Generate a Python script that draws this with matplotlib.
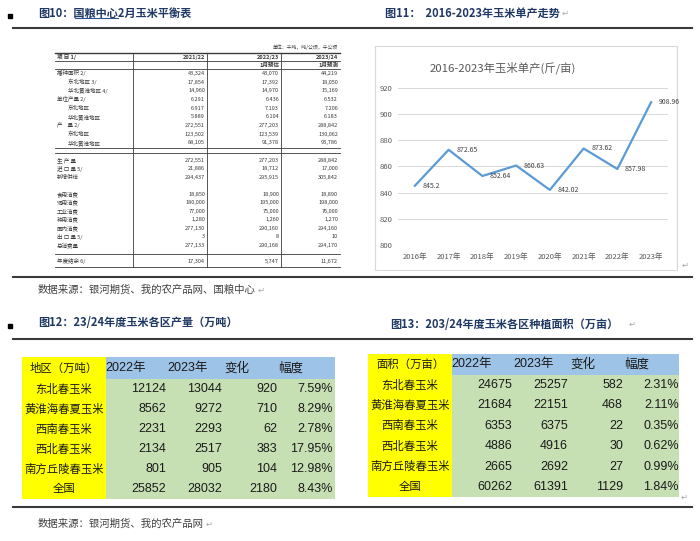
import matplotlib
matplotlib.use('Agg')
import matplotlib.pyplot as plt
from matplotlib import font_manager as fm
from matplotlib.patches import Rectangle

plt.rcParams['font.family'] = ['Noto Sans CJK SC', 'DejaVu Sans']
names = {f.name for f in fm.fontManager.ttflist}
NARROW = 'Liberation Sans Narrow' if 'Liberation Sans Narrow' in names else 'Liberation Sans'
NUMFONT = [NARROW, 'Noto Sans CJK SC', 'DejaVu Sans']
NUMSIZE = 10 if NARROW == 'Liberation Sans Narrow' else 9

# ---- 图10 国粮中心平衡表 ----
bal_head = ['项 目 1/', '2021/22', '2022/23', '2023/24']
bal_sub = ['', '', '1月预估', '1月预测']
bal_items = ['播种面积 2/', '东北地区 3/', '华北黄淮地区 4/', '单位产量 2/', '东北地区', '华北黄淮地区',
             '产    量 2/', '东北地区', '华北黄淮地区',
             '生 产 量', '进 口 量 5/', '新增供给',
             '食用消费', '饲用消费', '工业消费', '种用消费', '国内消费', '出 口 量 5/', '总消费量',
             '年度结余 6/']
bal_indent = [0, 1, 1, 0, 1, 1, 0, 1, 1, 0, 0, 0, 0, 0, 0, 0, 0, 0, 0, 0]
bal_2122 = ['43,324', '17,854', '14,960', '6.291', '6.917', '5.889', '272,551', '123,502', '88,105',
            '272,551', '21,886', '294,437',
            '18,850', '180,000', '77,000', '1,280', '277,130', '3', '277,133', '17,304']
bal_2223 = ['43,070', '17,392', '14,970', '6.436', '7.103', '6.104', '277,203', '123,539', '91,378',
            '277,203', '18,712', '295,915',
            '18,900', '195,000', '75,000', '1,260', '290,160', '8', '290,168', '5,747']
bal_2324 = ['44,219', '18,050', '15,169', '6.532', '7.206', '6.183', '288,842', '130,062', '93,786',
            '288,842', '17,000', '305,842',
            '18,890', '198,000', '76,000', '1,270', '294,160', '10', '294,170', '11,672']

# ---- 图11 单产 ----
years = ['2016年', '2017年', '2018年', '2019年', '2020年', '2021年', '2022年', '2023年']
yields = [845.2, 872.65, 852.64, 860.63, 842.02, 873.62, 857.98, 908.96]

# ---- 图12 / 图13 ----
regions = ['东北春玉米', '黄淮海春夏玉米', '西南春玉米', '西北春玉米', '南方丘陵春玉米', '全国']
col_heads = ['2022年', '2023年', '变化', '幅度']
out_2022 = [12124, 8562, 2231, 2134, 801, 25852]
out_2023 = [13044, 9272, 2293, 2517, 905, 28032]
out_chg = [920, 710, 62, 383, 104, 2180]
out_pct = ['7.59%', '8.29%', '2.78%', '17.95%', '12.98%', '8.43%']
area_2022 = [24675, 21684, 6353, 4886, 2665, 60262]
area_2023 = [25257, 22151, 6375, 4916, 2692, 61391]
area_chg = [582, 468, 22, 30, 27, 1129]
area_pct = ['2.31%', '2.11%', '0.35%', '0.62%', '0.99%', '1.84%']

W, H = 700, 541
fig = plt.figure(figsize=(W / 100, H / 100), dpi=100)
ax = fig.add_axes([0, 0, 1, 1])
ax.set_xlim(0, W)
ax.set_ylim(H, 0)
ax.axis('off')

navy = '#1F3864'
ret = '#A6A6A6'

# titles / section lines
def bullet(y):
    ax.add_patch(Rectangle((8, y - 2), 4, 4, color='black'))

bullet(16)
ax.text(38, 13, '图10：国粮中心2月玉米平衡表', fontsize=8, fontweight='bold', color=navy, va='center')
ax.plot([75, 118], [17.5, 17.5], color='#2F5597', lw=0.8)
ax.text(385, 13, '图11：  2016-2023年玉米单产走势', fontsize=8, fontweight='bold', color=navy, va='center')
ax.text(562, 13, '↵', fontsize=6, color=ret, va='center', family='DejaVu Sans')
for y in [28, 277, 339, 507]:
    ax.plot([13, 692], [y, y], color='#3A3A3A', lw=1.5)

# ---- fig 10 table ----
tc = '#3A3A3A'
tl, tr = 55, 340
ax.text(338, 47, '单位：千吨，吨/公顷，千公顷', fontsize=3.5, color=tc, ha='right', va='center')
ax.plot([tl, tr], [52.5, 52.5], color=tc, lw=1.0)
for y in [61, 69, 148, 153, 254, 267]:
    ax.plot([tl, tr], [y, y], color=tc, lw=0.6)
for x in [132.7, 206.7, 281]:
    ax.plot([x, x], [52.5, 267], color=tc, lw=0.6)
col_r = [205, 279, 338]
ax.text(57, 57, bal_head[0], fontsize=4, color=tc, va='center', fontweight='bold')
for j in range(3):
    ax.text(col_r[j], 57, bal_head[j + 1], fontsize=4, color=tc, va='center', ha='right', fontweight='bold')
    ax.text(col_r[j], 65, bal_sub[j + 1], fontsize=4, color=tc, va='center', ha='right', fontweight='bold')
row_y = [73.3 + 8.7 * i for i in range(9)] + [160 + 8.5 * i for i in range(3)] + \
        [194 + 8.5 * i for i in range(7)] + [261.5]
for i, item in enumerate(bal_items):
    y = row_y[i]
    ax.text(57 + 11 * bal_indent[i], y, item, fontsize=4, color=tc, va='center')
    for j, col in enumerate([bal_2122, bal_2223, bal_2324]):
        ax.text(col_r[j], y, col[i], fontsize=4, color=tc, va='center', ha='right')

ax.text(38, 290, '数据来源：银河期货、我的农产品网、国粮中心', fontsize=7.5, color='#404040', va='center')
ax.text(258, 290, '↵', fontsize=6, color=ret, va='center', family='DejaVu Sans')

# ---- fig 11 chart ----
ax.add_patch(Rectangle((375, 46), 302, 224, fill=False, edgecolor='#D9D9D9', lw=0.8))
ax.text(503, 68, '2016-2023年玉米单产(斤/亩)', fontsize=8.2, color='#595959', ha='center', va='center')
ax.text(682, 265, '↵', fontsize=6, color=ret, va='center', family='DejaVu Sans')

ax2 = fig.add_axes([398 / W, 1 - 245 / H, 270 / W, 157.3 / H])
xs = list(range(len(years)))
ax2.plot(xs, yields, color='#5B9BD5', lw=1.6)
ax2.set_xlim(-0.5, len(years) - 0.5)
ax2.set_ylim(800, 920)
ax2.set_yticks(range(800, 921, 20))
ax2.set_xticks(xs)
ax2.set_xticklabels(years)
ax2.grid(axis='y', color='#D9D9D9', lw=0.7)
ax2.set_axisbelow(True)
for s in ax2.spines.values():
    s.set_visible(False)
ax2.tick_params(length=0, labelsize=5.5, labelcolor='#595959')
ax2.tick_params(axis='x', pad=6)
ax2.tick_params(axis='y', pad=4)
for i, v in enumerate(yields):
    ax2.annotate(str(v), (i, v), xytext=(5.5, 0), textcoords='offset points',
                 fontsize=5, color='#404040', va='center', ha='left')
ax2.patch.set_alpha(0)

# ---- fig 12 / 13 tables ----
bullet(326)
ax.text(38, 323, '图12：23/24年度玉米各区产量（万吨）', fontsize=8, fontweight='bold', color=navy, va='center')
ax.text(390, 324, '图13：203/24年度玉米各区种植面积（万亩）', fontsize=8, fontweight='bold', color=navy, va='center')
ax.text(629, 324, '↵', fontsize=6, color=ret, va='center', family='DejaVu Sans')


def draw_table(x0, right, top, hb, bottom, corner, c1, c2, c3, c4):
    ylw = x0 + 84
    ax.add_patch(Rectangle((x0, top), ylw - x0, bottom - top, color='#FFFF00', lw=0))
    ax.add_patch(Rectangle((ylw, top), right - ylw, hb - top, color='#9DC3E6', lw=0))
    ax.add_patch(Rectangle((ylw, hb), right - ylw, bottom - hb, color='#C6E0B4', lw=0))
    ax.text((x0 + ylw) / 2, (top + hb) / 2, corner, fontsize=8.2, color='#1A1A1A', ha='center', va='center')
    head_x = [104, 166, 215, 269]
    for k, h in enumerate(col_heads):
        ax.text(x0 + head_x[k], (top + hb) / 2, h, fontsize=NUMSIZE, color='#1A1A1A',
                ha='center', va='center', family=NUMFONT)
    rh = (bottom - hb) / len(regions)
    num_r = [144, 200, 255, 311]
    for i, r in enumerate(regions):
        y = hb + rh * (i + 0.5)
        ax.text((x0 + ylw) / 2, y, r, fontsize=8.2, color='#1A1A1A', ha='center', va='center')
        for k, col in enumerate([c1, c2, c3, c4]):
            ax.text(x0 + num_r[k], y, str(col[i]), fontsize=NUMSIZE, color='#1A1A1A',
                    ha='right', va='center', family=NUMFONT)


draw_table(22, 335, 357, 379, 499, '地区（万吨）', out_2022, out_2023, out_chg, out_pct)
draw_table(368, 679, 354, 375, 497, '面积（万亩）', area_2022, area_2023, area_chg, area_pct)
ax.text(681, 497, '↵', fontsize=6, color=ret, va='center', family='DejaVu Sans')

ax.text(38, 524, '数据来源：银河期货、我的农产品网', fontsize=7.5, color='#404040', va='center')
ax.text(206, 524, '↵', fontsize=6, color=ret, va='center', family='DejaVu Sans')

fig.savefig('out.png', dpi=100)
